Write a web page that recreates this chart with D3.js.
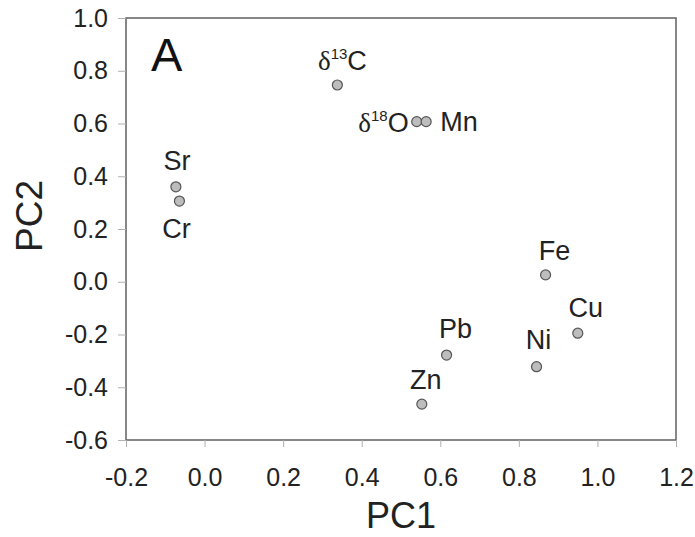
<!DOCTYPE html>
<html><head><meta charset="utf-8">
<script src="https://cdn.jsdelivr.net/npm/d3@7"></script>
<style>
html,body{margin:0;padding:0;background:#fff;}
svg{display:block;}
</style></head>
<body>
<svg id="chart" width="695" height="537"></svg>
<script>
// ---- data ----
const names = ["Sr","Cr","d13C","d18O","Mn","Fe","Cu","Ni","Pb","Zn"];
const pc1 = [-0.073,-0.064,0.338,0.540,0.564,0.868,0.950,0.845,0.616,0.553];
const pc2 = [0.360,0.306,0.746,0.607,0.607,0.026,-0.195,-0.322,-0.278,-0.464];
const xTicks = [-0.2,0.0,0.2,0.4,0.6,0.8,1.0,1.2];
const yTicks = [-0.6,-0.4,-0.2,0.0,0.2,0.4,0.6,0.8,1.0];
const xTitle = "PC1", yTitle = "PC2", panelLabel = "A";

// label placement (style only)
const place = {
  Sr:{dx:1,dy:-17,a:"middle"}, Cr:{dx:-3,dy:37,a:"middle"},
  d13C:{dx:5,dy:-15,a:"middle"}, d18O:{dx:-8,dy:10,a:"end"},
  Mn:{dx:14,dy:9.5,a:"start"}, Fe:{dx:9,dy:-15,a:"middle"},
  Cu:{dx:8,dy:-16.6,a:"middle"}, Ni:{dx:2,dy:-18,a:"middle"},
  Pb:{dx:9,dy:-17,a:"middle"}, Zn:{dx:4,dy:-15,a:"middle"}
};

const svg = d3.select("#chart");
const L=126, R=676, T=18, B=440;
const x = d3.scaleLinear().domain([-0.2,1.2]).range([L,R]);
const y = d3.scaleLinear().domain([-0.6,1.0]).range([B,T]);
const font = "Liberation Sans, Arial, Helvetica, sans-serif";

// frame
svg.append("rect").attr("x",L).attr("y",T).attr("width",R-L).attr("height",B-T)
  .attr("fill","none").attr("stroke","#6a6a6a").attr("stroke-width",1.6);

// axes
const fmt = d3.format(".1f");
const xa = svg.append("g").attr("transform",`translate(0,${B})`)
  .call(d3.axisBottom(x).tickValues(xTicks).tickFormat(d=>fmt(d).replace("−","-")).tickSize(7).tickSizeOuter(0).tickPadding(21));
const ya = svg.append("g").attr("transform",`translate(${L},0)`)
  .call(d3.axisLeft(y).tickValues(yTicks).tickFormat(d=>fmt(d).replace("−","-")).tickSize(8).tickSizeOuter(0).tickPadding(10));
[xa,ya].forEach(g=>{
  g.select(".domain").remove();
  g.selectAll(".tick line").attr("stroke","#b0b0b0").attr("stroke-width",1);
  g.selectAll(".tick text").attr("fill","#222").style("font-family",font).style("font-size","25px");
});

// titles
svg.append("text").attr("x",(L+R)/2).attr("y",528).attr("text-anchor","middle")
  .style("font-family",font).style("font-size","36px").attr("fill","#222").text(xTitle);
svg.append("text").attr("transform","translate(42,216) rotate(-90)").attr("text-anchor","middle")
  .style("font-family",font).style("font-size","37px").attr("fill","#222").text(yTitle);
svg.append("text").attr("x",151).attr("y",71).style("font-family",font).style("font-size","47px")
  .attr("fill","#111").text(panelLabel);

// points
const data = names.map((n,i)=>({n, x:pc1[i], y:pc2[i]}));
svg.append("g").selectAll("circle").data(data).join("circle")
  .attr("cx",d=>x(d.x)).attr("cy",d=>y(d.y)).attr("r",5)
  .attr("fill","#bdbdbd").attr("stroke","#555").attr("stroke-width",1.2);

// labels
const lab = svg.append("g").selectAll("text").data(data).join("text")
  .attr("x",d=>x(d.x)+place[d.n].dx).attr("y",d=>y(d.y)+place[d.n].dy)
  .attr("text-anchor",d=>place[d.n].a)
  .style("font-family",font).style("font-size","27px").attr("fill","#222");
lab.each(function(d){
  const t = d3.select(this);
  if (d.n.startsWith("d")) {
    const iso = d.n.slice(1, 3), el = d.n.slice(3);
    t.append("tspan").style("font-family","Liberation Serif, Times New Roman, serif").text("δ");
    t.append("tspan").style("font-size","15px").attr("dy",-11).text(iso);
    t.append("tspan").attr("dy",11).text(el);
  } else t.text(d.n);
});
</script>
</body></html>
